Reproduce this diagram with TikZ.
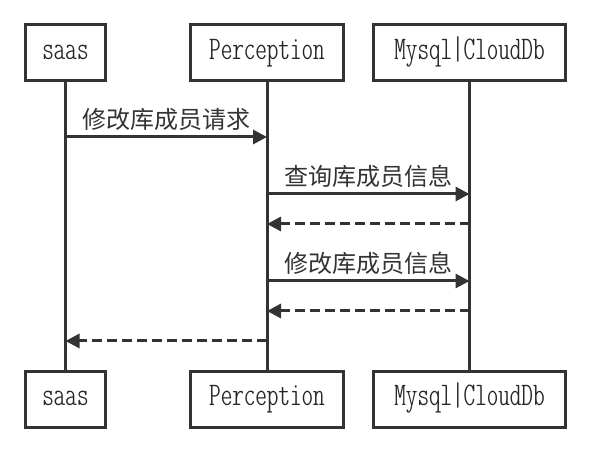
\documentclass[tikz,border=0pt]{standalone}
\usepackage{fontspec}
\usepackage{tikz}
\usetikzlibrary{arrows.meta}
\newfontfamily\cjk{Noto Sans CJK SC}
\newfontfamily\seqmono{Latin Modern Mono Light Cond}
\definecolor{seqline}{HTML}{333333}
\tikzset{
  actor/.style={draw=seqline, line width=1.5pt, fill=white, minimum height=28pt,
    inner sep=0pt, text height=0.62em, text depth=0pt, text=black!85,
    font=\fontsize{16.5pt}{18pt}\seqmono},
  lifeline/.style={draw=seqline, line width=1.5pt},
  call/.style={draw=seqline, line width=1.5pt, -{Triangle[length=7pt,width=7pt]}},
  reply/.style={call, dash pattern=on 5pt off 2.5pt},
  msglabel/.style={font=\fontsize{12pt}{14pt}\cjk, text=black!80, inner sep=0pt, above=2.5pt}
}
\begin{document}
\begin{tikzpicture}[x=0.5pt, y=-0.5pt]
    \useasboundingbox (0,0) rectangle (612,449);

    % participants, top row
    \node[actor, minimum width=40pt] (saasT) at (65.5,53) {saas};
    \node[actor, minimum width=76.5pt] (percT) at (267,53) {Perception};
    \node[actor, minimum width=96pt] (dbT) at (469.5,53) {Mysql|CloudDb};

    % participants, bottom row
    \node[actor, minimum width=40pt] (saasB) at (65.5,399.5) {saas};
    \node[actor, minimum width=76.5pt] (percB) at (267,399.5) {Perception};
    \node[actor, minimum width=96pt] (dbB) at (469.5,399.5) {Mysql|CloudDb};

    % lifelines
    \draw[lifeline] (saasT) -- (saasB);
    \draw[lifeline] (percT) -- (percB);
    \draw[lifeline] (dbT) -- (dbB);

    % messages
    \draw[call] (saasT |- 0,137) -- (percT |- 0,137)
        node[msglabel, midway] {修改库成员请求};
    \draw[call] (percT |- 0,194) -- (dbT |- 0,194)
        node[msglabel, midway] {查询库成员信息};
    \draw[reply] (dbT |- 0,224) -- (percT |- 0,224);
    \draw[call] (percT |- 0,281) -- (dbT |- 0,281)
        node[msglabel, midway] {修改库成员信息};
    \draw[reply] (dbT |- 0,311) -- (percT |- 0,311);
    \draw[reply] (percT |- 0,341) -- (saasT |- 0,341);

\end{tikzpicture}
\end{document}
